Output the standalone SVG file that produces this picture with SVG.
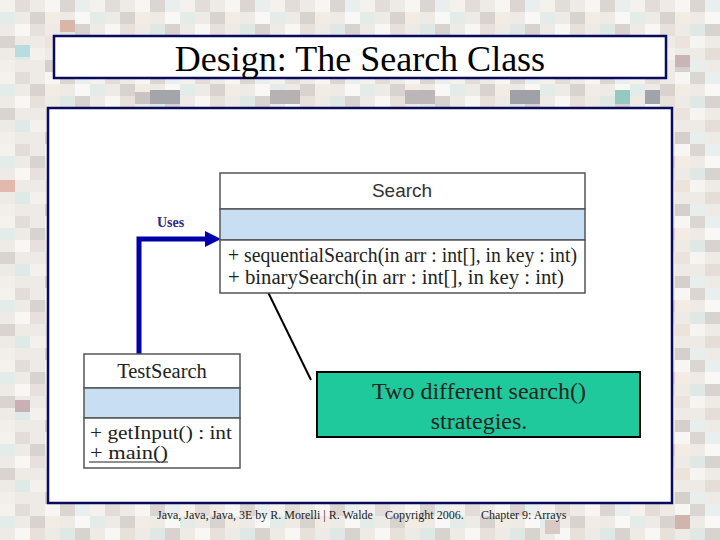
<svg xmlns="http://www.w3.org/2000/svg" width="720" height="540" viewBox="0 0 720 540">
<defs>
<pattern id="mosaic" x="0" y="0" width="90" height="72" patternUnits="userSpaceOnUse">
<rect width="90" height="72" fill="#eeeae5"/>
<rect x="0" y="0" width="15" height="12" fill="#f5f2ee"/>
<rect x="15" y="0" width="15" height="12" fill="#e2ddd8"/>
<rect x="45" y="0" width="15" height="12" fill="#f7f6f3"/>
<rect x="60" y="0" width="15" height="12" fill="#dcd6d2"/>
<rect x="75" y="0" width="15" height="12" fill="#e9efee"/>
<rect x="0" y="12" width="15" height="12" fill="#e3ece9"/>
<rect x="30" y="12" width="15" height="12" fill="#d8d3cf"/>
<rect x="45" y="12" width="15" height="12" fill="#f3ece5"/>
<rect x="75" y="12" width="15" height="12" fill="#faf8f6"/>
<rect x="15" y="24" width="15" height="12" fill="#f8f7f4"/>
<rect x="30" y="24" width="15" height="12" fill="#e8e1db"/>
<rect x="60" y="24" width="15" height="12" fill="#e0e8e6"/>
<rect x="75" y="24" width="15" height="12" fill="#d9d3cf"/>
<rect x="0" y="36" width="15" height="12" fill="#dad4d0"/>
<rect x="45" y="36" width="15" height="12" fill="#ece3dd"/>
<rect x="60" y="36" width="15" height="12" fill="#f6f4f1"/>
<rect x="15" y="48" width="15" height="12" fill="#dfe9e7"/>
<rect x="30" y="48" width="15" height="12" fill="#f4f1ed"/>
<rect x="75" y="48" width="15" height="12" fill="#e4ddd8"/>
<rect x="0" y="60" width="15" height="12" fill="#f2eee9"/>
<rect x="45" y="60" width="15" height="12" fill="#d6d0cd"/>
<rect x="60" y="60" width="15" height="12" fill="#e7eeec"/>
</pattern>
<style>
.frame{fill:#ffffff;stroke:#0a0a5e;stroke-width:2.5}
.cls{fill:#ffffff;stroke:#555555;stroke-width:1.5}
.attr{fill:#c8def2;stroke:#555555;stroke-width:1.5}
.tx{font-family:"Liberation Serif","Times New Roman",serif;fill:#222222}
.hv{font-family:"Liberation Sans",Arial,sans-serif;fill:#333333}
.foot{font-family:"Liberation Serif","Times New Roman",serif;font-size:12px;fill:#222222}
</style>
</defs>

<rect width="720" height="540" fill="url(#mosaic)"/>
<g id="dark-tiles">
<rect x="150" y="90" width="30" height="14" fill="#a4a4ab"/>
<rect x="135" y="92" width="15" height="12" fill="#c9c3c2"/>
<rect x="270" y="90" width="30" height="14" fill="#b6b2b4"/>
<rect x="405" y="90" width="30" height="14" fill="#bdb6b8"/>
<rect x="510" y="90" width="30" height="14" fill="#9fa1a6"/>
<rect x="615" y="90" width="15" height="14" fill="#94c9c0"/>
<rect x="645" y="90" width="15" height="14" fill="#a2a3a8"/>
<rect x="675" y="55" width="15" height="12" fill="#c9b4b8"/>
<rect x="15" y="45" width="15" height="12" fill="#b8dce0"/>
<rect x="60" y="20" width="15" height="12" fill="#d8b6a8"/>
<rect x="15" y="400" width="15" height="12" fill="#c9b0b4"/>
<rect x="0" y="180" width="15" height="12" fill="#e3b8ad"/>
<rect x="675" y="515" width="15" height="14" fill="#cfb5ab"/>
<rect x="545" y="520" width="15" height="14" fill="#d8c8c6"/>
</g>

<g id="title">
<rect class="frame" x="54" y="36" width="612" height="42"/>
<text x="360" y="71" font-family="'Liberation Serif','Times New Roman',serif" font-size="36" text-anchor="middle" fill="#000">Design: The Search Class</text>
</g>

<g id="panel">
<rect class="frame" x="48" y="108" width="624" height="395"/>
</g>

<g id="connectors">
<polyline points="139,354 139,239 207,239" fill="none" stroke="#0000aa" stroke-width="5"/>
<path d="M205,231 L221,239 L205,247 z" fill="#0000aa"/>
<text x="157" y="227" font-family="'Liberation Serif','Times New Roman',serif" font-size="14" font-weight="bold" fill="#2a2a8c">Uses</text>
<line x1="265" y1="286" x2="311" y2="380" stroke="#000" stroke-width="2"/>
</g>

<g id="search">
<rect class="cls" x="220" y="173" width="365" height="36"/>
<rect class="attr" x="220" y="209" width="365" height="31"/>
<rect class="cls" x="220" y="240" width="365" height="53"/>
<text class="hv" x="402" y="197" font-size="19" text-anchor="middle">Search</text>
<text class="tx" x="228" y="262" font-size="20" textLength="349" lengthAdjust="spacingAndGlyphs">+ sequentialSearch(in arr : int[], in key : int)</text>
<text class="tx" x="228" y="284" font-size="20" textLength="336" lengthAdjust="spacingAndGlyphs">+ binarySearch(in arr : int[], in key : int)</text>
</g>

<g id="testsearch">
<rect class="cls" x="84" y="354" width="156" height="34"/>
<rect class="attr" x="84" y="388" width="156" height="30"/>
<rect class="cls" x="84" y="418" width="156" height="50"/>
<text class="tx" x="162" y="378" font-size="20.5" text-anchor="middle">TestSearch</text>
<text class="tx" x="90" y="439" font-size="19" textLength="142" lengthAdjust="spacingAndGlyphs">+ getInput() : int</text>
<text class="tx" x="90" y="459" font-size="19" textLength="78" lengthAdjust="spacingAndGlyphs">+ main()</text>
<line x1="89" y1="462" x2="168" y2="462" stroke="#222" stroke-width="1.2"/>
</g>

<g id="note">
<rect x="317" y="372" width="323" height="65" fill="#1fc99b" stroke="#000" stroke-width="2"/>
<text class="tx" x="479" y="399" font-size="24" text-anchor="middle" fill="#111">Two different search()</text>
<text class="tx" x="479" y="429" font-size="24" text-anchor="middle" fill="#111">strategies.</text>
</g>

<g id="footer">
<text class="foot" x="157" y="519">Java, Java, Java, 3E by R. Morelli | R. Walde</text>
<text class="foot" x="385" y="519">Copyright 2006.</text>
<text class="foot" x="481" y="519">Chapter 9: Arrays</text>
</g>
</svg>
